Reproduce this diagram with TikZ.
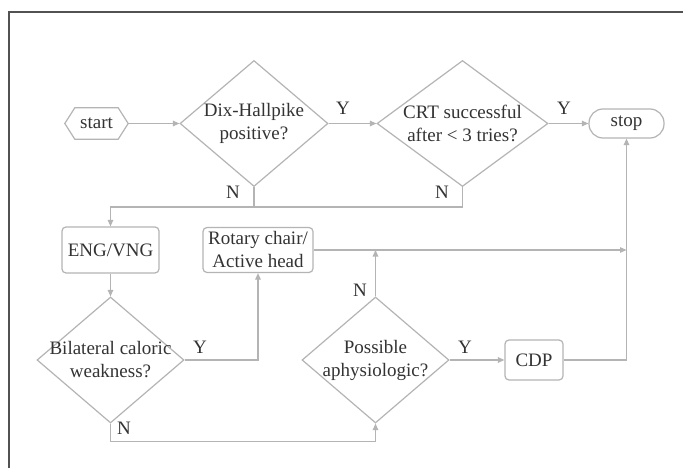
\documentclass[tikz,border=0pt]{standalone}
\usepackage{fontspec}
\setmainfont{Liberation Serif}
\newfontfamily\tmsfont{Liberation Serif}
\usetikzlibrary{arrows.meta,shapes.geometric,calc}
\definecolor{ln}{HTML}{B4B4B4}
\definecolor{tx}{HTML}{333333}
\begin{document}
\begin{tikzpicture}[x=1pt,y=-1pt,
  every node/.style={text=tx, font=\tmsfont\fontsize{19}{23}\selectfont},
  conn/.style={draw=ln, line width=1.2pt},
  arr/.style={conn, -{Triangle[length=6.5pt,width=5.5pt]}},
  dia/.style={diamond, draw=ln, line width=1.2pt, inner sep=0pt, minimum width=#1, minimum height=126pt},
  box/.style={rectangle, rounded corners=4pt, draw=ln, line width=1.2pt, inner sep=0pt},
  lbl/.style={inner sep=0pt}
]
\useasboundingbox (0,0) rectangle (683,468);
\fill[white] (0,0) rectangle (683,468);
\draw[draw=tx!85, line width=1.5pt] (9,468) -- (9,12) -- (683,12);

% start hexagon
\node[minimum width=63pt, minimum height=31pt, inner sep=0pt] (start) at (96.5,123.5) {start};
\draw[conn] (start.west) -- ($(start.north west)+(10,0)$) -- ($(start.north east)+(-10,0)$)
  -- (start.east) -- ($(start.south east)+(-10,0)$) -- ($(start.south west)+(10,0)$) -- cycle;

% diamonds
\node[dia=148pt] (dh) at (254,123.5) {};
\node[align=center] (dhT) at (dh) {Dix-Hallpike\\positive?};
\node[dia=171pt] (crt) at (462.5,123.5) {};
\node[align=center] (crtT) at (crt) {CRT successful\\after < 3 tries?};
\node[dia=147pt] (bil) at (110.5,360) {};
\node[align=center] (bilT) at (bil) {Bilateral caloric\\weakness?};
\node[dia=147pt] (pos) at (375.5,360) {};
\node[align=center] (posT) at (pos) {Possible\\aphysiologic?};

% boxes
\node[box, rounded corners=14pt, minimum width=75pt, minimum height=29pt] (stop) at (626.5,123.5) {stop};
\node[box, minimum width=97pt, minimum height=46pt] (eng) at (110.5,250) {ENG/VNG};
\node[box, minimum width=110pt, minimum height=45pt, align=center] (rot) at (258,250) {Rotary chair/\\Active head};
\node[box, minimum width=58pt, minimum height=40pt] (cdp) at (534,360) {CDP};

% connectors
\draw[arr] (start.east) -- (dh.west);
\draw[arr] (dh.east) -- (crt.west);
\draw[arr] (crt.east) -- (stop.west);
\coordinate (jn) at (110.5,207);
\draw[conn] (dh.south) -- (dh.south |- jn);
\draw[arr] (crt.south) |- (jn) -- (eng.north);
\draw[arr] (eng.south) -- (bil.north);
\draw[arr] (bil.east) -| (rot.south);
\draw[arr] (bil.south) -- ++(0,18) -| (pos.south);
\draw[arr] (pos.north) -- (pos.north |- rot.east);
\draw[arr] (pos.east) -- (cdp.west);
\draw[arr] (rot.east) -- (stop.south |- rot.east);
\draw[arr] (cdp.east) -| (stop.south);

% labels
\node[lbl] (y1) at (343,108) {Y};
\node[lbl] (y2) at (564,108) {Y};
\node[lbl] (n1) at (233,192) {N};
\node[lbl] (n2) at (442,192) {N};
\node[lbl] (y3) at (200,347) {Y};
\node[lbl] (n3) at (124,428) {N};
\node[lbl] (n4) at (360,290) {N};
\node[lbl] (y4) at (465,347) {Y};
\end{tikzpicture}
\end{document}
